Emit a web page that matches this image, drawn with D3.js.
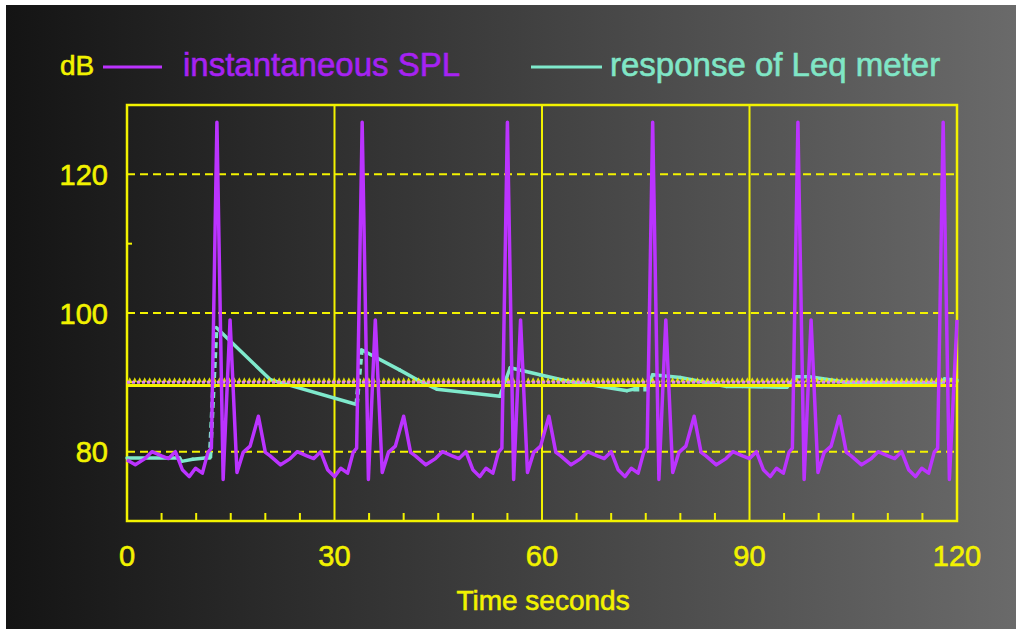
<!DOCTYPE html>
<meta charset="utf-8">
<style>
  body { margin: 0; background: #fff; }
  svg { display: block; }
  text { font-family: "Liberation Sans", Arial, sans-serif; stroke-width: 0.6; }
</style>
<script src="https://d3js.org/d3.v7.min.js"></script>
<div id="chart"></div>
<script>

// instantaneous SPL (seconds, dB)
var splTime = [0.0, 1.2, 2.6, 3.6, 5.0, 6.0, 7.0, 8.0, 9.0, 9.9, 10.9, 11.7, 12.2,
  13.0, 13.9, 14.9, 15.9, 16.8, 17.8, 19.0, 20.0, 20.7, 22.2, 23.6, 24.6, 26.0, 27.0, 28.0, 29.0, 30.0, 30.9, 31.9, 32.7, 33.2,
  34.0, 34.9, 35.9, 36.9, 37.8, 38.8, 40.0, 41.0, 41.7, 43.2, 44.6, 45.6, 47.0, 48.0, 49.0, 50.0, 51.0, 51.9, 52.9, 53.7, 54.2,
  55.0, 55.9, 56.9, 57.9, 58.8, 59.8, 61.0, 62.0, 62.7, 64.2, 65.6, 66.6, 68.0, 69.0, 70.0, 71.0, 72.0, 72.9, 73.9, 74.7, 75.2,
  76.0, 76.9, 77.9, 78.9, 79.8, 80.8, 82.0, 83.0, 83.7, 85.2, 86.6, 87.6, 89.0, 90.0, 91.0, 92.0, 93.0, 93.9, 94.9, 95.7, 96.2,
  97.0, 97.9, 98.9, 99.9, 100.8, 101.8, 103.0, 104.0, 104.7, 106.2, 107.6, 108.6, 110.0, 111.0, 112.0, 113.0, 114.0, 114.9, 115.9, 116.7, 117.2,
  118.0, 118.9, 120.0];
var splDb = [78.8, 78.1, 79.0, 80.0, 79.4, 79.0, 80.0, 77.4, 76.4, 77.6, 76.9, 79.9, 80.5,
  127.5, 76.0, 99.0, 77.0, 79.9, 80.8, 85.1, 79.9, 79.4, 78.1, 79.0, 80.0, 79.4, 79.0, 80.0, 77.4, 76.4, 77.6, 76.9, 79.9, 80.5,
  127.5, 76.0, 99.0, 77.0, 79.9, 80.8, 85.1, 79.9, 79.4, 78.1, 79.0, 80.0, 79.4, 79.0, 80.0, 77.4, 76.4, 77.6, 76.9, 79.9, 80.5,
  127.5, 76.0, 99.0, 77.0, 79.9, 80.8, 85.1, 79.9, 79.4, 78.1, 79.0, 80.0, 79.4, 79.0, 80.0, 77.4, 76.4, 77.6, 76.9, 79.9, 80.5,
  127.5, 76.0, 99.0, 77.0, 79.9, 80.8, 85.1, 79.9, 79.4, 78.1, 79.0, 80.0, 79.4, 79.0, 80.0, 77.4, 76.4, 77.6, 76.9, 79.9, 80.5,
  127.5, 76.0, 99.0, 77.0, 79.9, 80.8, 85.1, 79.9, 79.4, 78.1, 79.0, 80.0, 79.4, 79.0, 80.0, 77.4, 76.4, 77.6, 76.9, 79.9, 80.5,
  127.5, 76.0, 99.0];

// response of the Leq meter
var leqTime = [0.0, 7.6, 7.9, 9.5, 11.3, 12.0, 12.9, 20.7, 33.2, 33.9, 39.4, 41.9, 44.8, 53.9, 55.4, 59.7, 63.6, 72.3, 73.2, 75.2, 76.0, 80.0, 86.7, 89.0, 94.4, 95.4, 96.8, 98.7, 104.0, 117.5, 118.2, 120.0];
var leqDb = [79.1, 79.1, 78.6, 78.9, 79.1, 79.1, 97.9, 90.4, 86.8, 94.7, 91.8, 90.4, 89.0, 88.0, 92.1, 91.1, 90.2, 88.8, 89.0, 89.0, 91.1, 90.7, 89.4, 89.4, 89.3, 89.3, 90.8, 90.8, 90.0, 89.8, 90.5, 90.3];
// segments (by start index) drawn dotted
var leqDotted = [5, 8, 18];

var refLevel = 90;
var xTicks = [0, 30, 60, 90, 120];
var xGrid = [30, 60, 90];
var xMinor = [5, 10, 15, 20, 25, 35, 40, 45, 50, 55, 65, 70, 75, 80, 85, 95, 100, 105, 110, 115];
var yTicks = [80, 100, 120];
var yMinor = [90, 110];

var W = 1016, H = 631;
var yellow = "#f2f200", purple = "#bb33ff", teal = "#7fe9cc";

var svg = d3.select("#chart").append("svg")
  .attr("width", W).attr("height", H);

var grad = svg.append("defs").append("linearGradient")
  .attr("id", "bg").attr("x1", "0%").attr("x2", "100%");
grad.append("stop").attr("offset", "0%").attr("stop-color", "#141414");
grad.append("stop").attr("offset", "100%").attr("stop-color", "#6a6a6a");

svg.append("rect")
  .attr("x", 6).attr("y", 5).attr("width", W - 6).attr("height", 624)
  .attr("fill", "url(#bg)");

var x = d3.scaleLinear().domain([0, 120]).range([127, 957]);
var y = d3.scaleLinear().domain([70, 130]).range([521, 105]);

// dashed horizontal grid
svg.selectAll(".hgrid").data(yTicks).enter().append("line")
  .attr("x1", x(0)).attr("x2", x(120))
  .attr("y1", d => y(d)).attr("y2", d => y(d))
  .attr("stroke", yellow).attr("stroke-width", 2)
  .attr("stroke-dasharray", "8,5");

// solid vertical grid
svg.selectAll(".vgrid").data(xGrid).enter().append("line")
  .attr("x1", d => x(d)).attr("x2", d => x(d))
  .attr("y1", y(70)).attr("y2", y(130))
  .attr("stroke", yellow).attr("stroke-width", 2);

// minor ticks
svg.selectAll(".xminor").data(xMinor).enter().append("line")
  .attr("x1", d => x(d)).attr("x2", d => x(d))
  .attr("y1", y(70)).attr("y2", y(70) - 8)
  .attr("stroke", yellow).attr("stroke-width", 2);
svg.selectAll(".yminor").data(yMinor).enter().append("line")
  .attr("x1", x(0)).attr("x2", x(0) + 5)
  .attr("y1", d => y(d)).attr("y2", d => y(d))
  .attr("stroke", yellow).attr("stroke-width", 2);

// frame
svg.append("rect")
  .attr("x", x(0)).attr("y", y(130))
  .attr("width", x(120) - x(0)).attr("height", y(70) - y(130))
  .attr("fill", "none").attr("stroke", yellow).attr("stroke-width", 2.5);

// Leq meter response
var line = d3.line().x(d => x(d[0])).y(d => y(d[1]));
var leqPts = leqTime.map((t, i) => [t, leqDb[i]]);
var solidSegs = [], dotSegs = [];
for (var i = 0; i < leqPts.length - 1; i++) {
  var seg = [leqPts[i], leqPts[i + 1]];
  if (leqDotted.indexOf(i) >= 0) dotSegs.push(seg); else solidSegs.push(seg);
}
svg.selectAll(".leq").data(solidSegs).enter().append("path")
  .attr("d", line).attr("fill", "none")
  .attr("stroke", teal).attr("stroke-width", 3.5).attr("stroke-linecap", "round");
svg.selectAll(".leqdot").data(dotSegs).enter().append("path")
  .attr("d", line).attr("fill", "none")
  .attr("stroke", teal).attr("stroke-width", 4.5).attr("stroke-dasharray", "6,4");

// reference level band at 90 dB
svg.append("line")
  .attr("x1", x(0)).attr("x2", x(120))
  .attr("y1", y(refLevel - 0.45)).attr("y2", y(refLevel - 0.45))
  .attr("stroke", yellow).attr("stroke-width", 3);
var markT = d3.range(0.4, 120, 0.72);
svg.selectAll(".mark").data(markT).enter().append("path")
  .attr("d", d => {
    var cx = x(d), by = y(refLevel);
    return "M" + (cx - 2.5) + "," + by + "L" + cx + "," + (by - 5) + "L" + (cx + 2.5) + "," + by + "Z";
  })
  .attr("fill", yellow).attr("opacity", 0.9);
svg.append("line")
  .attr("x1", x(0)).attr("x2", x(120))
  .attr("y1", y(refLevel)).attr("y2", y(refLevel))
  .attr("stroke", "#e08ce8").attr("stroke-width", 3)
  .attr("stroke-dasharray", "3,2");

// instantaneous SPL
var splPts = splTime.map((t, i) => [t, splDb[i]]);
svg.append("path")
  .datum(splPts)
  .attr("d", line).attr("fill", "none")
  .attr("stroke", purple).attr("stroke-width", 3.5).attr("stroke-linejoin", "round");

// tick labels
svg.selectAll(".xlab").data(xTicks).enter().append("text")
  .attr("x", d => x(d)).attr("y", 566)
  .attr("text-anchor", "middle").attr("font-size", 29)
  .attr("fill", yellow).attr("stroke", yellow).text(d => d);
svg.selectAll(".ylab").data(yTicks).enter().append("text")
  .attr("x", 108).attr("y", d => y(d) + 10.5)
  .attr("text-anchor", "end").attr("font-size", 29)
  .attr("fill", yellow).attr("stroke", yellow).text(d => d);

svg.append("text")
  .attr("x", 543).attr("y", 610)
  .attr("text-anchor", "middle").attr("font-size", 28)
  .attr("fill", yellow).attr("stroke", yellow).text("Time seconds");

// legend
svg.append("text")
  .attr("x", 60).attr("y", 75).attr("font-size", 28)
  .attr("fill", yellow).attr("stroke", yellow).text("dB");
svg.append("line")
  .attr("x1", 103).attr("x2", 162).attr("y1", 67).attr("y2", 67)
  .attr("stroke", purple).attr("stroke-width", 3);
svg.append("text")
  .attr("x", 183).attr("y", 76).attr("font-size", 33)
  .attr("fill", "#a622f2").attr("stroke", "#a622f2").text("instantaneous SPL");
svg.append("line")
  .attr("x1", 531).attr("x2", 602).attr("y1", 67).attr("y2", 67)
  .attr("stroke", teal).attr("stroke-width", 3);
svg.append("text")
  .attr("x", 610).attr("y", 76).attr("font-size", 33)
  .attr("fill", "#80e6c6").attr("stroke", "#80e6c6").text("response of Leq meter");

</script>
